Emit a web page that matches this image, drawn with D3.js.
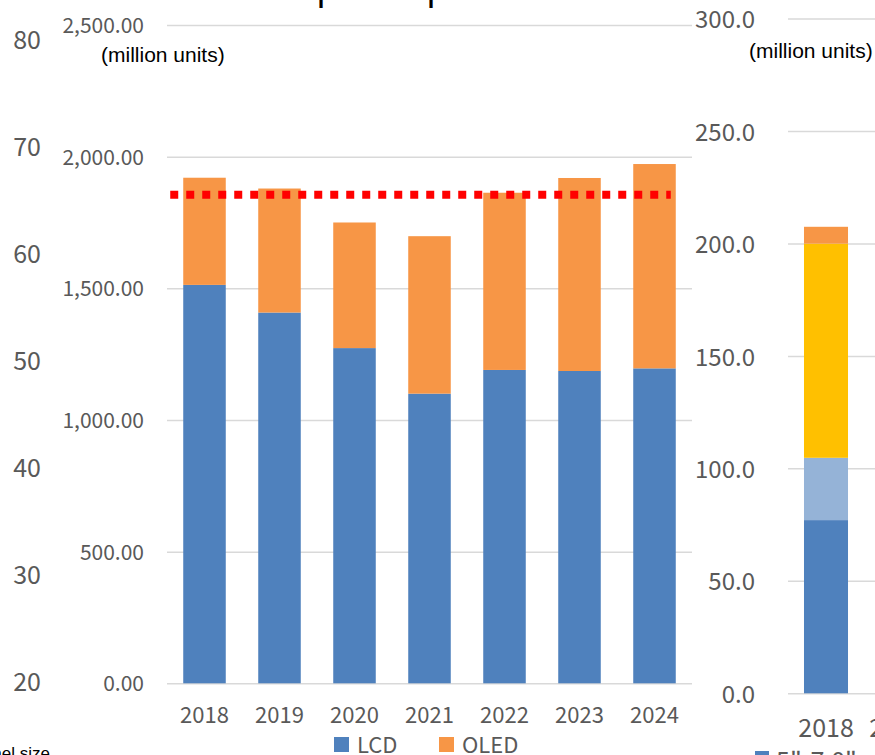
<!DOCTYPE html>
<html>
<head>
<meta charset="utf-8">
<script src="https://cdn.jsdelivr.net/npm/d3@7"></script>
<style>
  body { margin: 0; background: #fff; }
  svg { display: block; }
</style>
</head>
<body>
<div id="chart"></div>
<script>
// main chart data (million units)
const years = ['2018', '2019', '2020', '2021', '2022', '2023', '2024']
const lcd = [1513, 1408, 1273, 1100, 1190, 1186, 1196]
const oled = [407, 471, 477, 598, 673, 733, 776]
const refLine = 1855
const mainTicks = [0, 500, 1000, 1500, 2000, 2500]

// axis of the chart cut off on the left
const leftTicks = [20, 30, 40, 50, 60, 70, 80]

// chart cut off on the right
const rightYears = ['2018', '2019']
const rightKeys = ['a', 'b', 'c', 'd']
const rightValues = [[77.0, 27.7, 95.2, 7.5]]
const rightTicks = [0, 50, 100, 150, 200, 250, 300]

const w = 875
const h = 755
const numFont = '"Noto Sans CJK JP", "Noto Sans", sans-serif'
const txtFont = '"Liberation Sans", Arial, sans-serif'
const grey = '#595959'
const gridColor = '#d9d9d9'

const svg = d3.select('#chart')
    .append('svg')
    .attr('width', w)
    .attr('height', h)

// title, only the descenders show at the top edge
svg.append('text')
    .attr('x', 221)
    .attr('y', 0)
    .attr('font-family', txtFont)
    .attr('font-size', 36)
    .attr('fill', '#000')
    .text('Smartphone panel')

// ---- left cut-off axis ----
const yLeft = d3.scaleLinear().domain([20, 80]).range([681.5, 39.5])
svg.append('g')
    .attr('transform', 'translate(41,0)')
    .call(d3.axisLeft(yLeft).tickValues(leftTicks).tickSize(0).tickPadding(0))
    .call(g => g.select('.domain').remove())
    .selectAll('text')
    .attr('font-family', numFont)
    .attr('font-size', 25)
    .attr('fill', grey)
    .attr('dy', '0.35em')

svg.append('text')
    .attr('x', 50)
    .attr('y', 759)
    .attr('text-anchor', 'end')
    .attr('font-family', txtFont)
    .attr('font-size', 17)
    .attr('fill', '#000')
    .text('Panel size')

// ---- main chart ----
const xScale = d3.scaleBand()
    .domain(years)
    .range([167, 692])
    .paddingInner(0.433)
    .paddingOuter(0.2165)

const yScale = d3.scaleLinear()
    .domain([0, 2500])
    .range([683.3, 25])

// grid + y labels
const yAxis = svg.append('g')
    .attr('transform', 'translate(692,0)')
    .call(d3.axisLeft(yScale).tickValues(mainTicks).tickSize(525)
        .tickFormat(d3.format(',.2f')))
yAxis.select('.domain').remove()
yAxis.selectAll('line').attr('stroke', gridColor).attr('stroke-width', 1.5)
yAxis.selectAll('text')
    .attr('font-family', numFont)
    .attr('font-size', 21)
    .attr('fill', grey)
    .attr('x', -548)
    .attr('dy', '0.36em')

svg.append('text')
    .attr('x', 101)
    .attr('y', 62)
    .attr('font-family', txtFont)
    .attr('font-size', 21)
    .attr('fill', '#000')
    .text('(million units)')

const table = years.map((y, i) => ({ year: y, LCD: lcd[i], OLED: oled[i] }))
const stacked = d3.stack().keys(['LCD', 'OLED'])(table)
const colors = { LCD: '#4F81BD', OLED: '#F79646' }

svg.append('g')
    .selectAll('g')
    .data(stacked)
    .enter()
    .append('g')
    .attr('fill', d => colors[d.key])
    .selectAll('rect')
    .data(d => d)
    .enter()
    .append('rect')
    .attr('x', d => xScale(d.data.year))
    .attr('width', xScale.bandwidth())
    .attr('y', d => yScale(d[1]))
    .attr('height', d => yScale(d[0]) - yScale(d[1]))

// red dotted reference line
svg.append('line')
    .attr('x1', xScale(years[0]) - 13)
    .attr('x2', xScale(years[years.length - 1]) + xScale.bandwidth() - 5)
    .attr('y1', yScale(refLine))
    .attr('y2', yScale(refLine))
    .attr('stroke', '#FF0000')
    .attr('stroke-width', 8)
    .attr('stroke-dasharray', '8,8')

// x labels
const xAxis = svg.append('g')
    .attr('transform', 'translate(0,683.3)')
    .call(d3.axisBottom(xScale).tickSize(0).tickPadding(0))
xAxis.select('.domain').remove()
xAxis.selectAll('text')
    .attr('font-family', numFont)
    .attr('font-size', 22)
    .attr('fill', grey)
    .attr('dy', null)
    .attr('y', 39.4)

// legend
const legend = svg.append('g')
    .selectAll('g')
    .data(['LCD', 'OLED'])
    .enter()
    .append('g')
    .attr('transform', (d, i) => 'translate(' + (334 + i * 105) + ',737)')
legend.append('rect')
    .attr('width', 15)
    .attr('height', 15)
    .attr('fill', d => colors[d])
legend.append('text')
    .attr('x', 23)
    .attr('y', 16)
    .attr('font-family', numFont)
    .attr('font-size', 22)
    .attr('fill', grey)
    .text(d => d)

// ---- right cut-off chart ----
const xRight = d3.scaleBand()
    .domain(rightYears)
    .range([790.5, 932.5])
    .paddingInner(0.38)
    .paddingOuter(0.19)

const yRight = d3.scaleLinear()
    .domain([0, 300])
    .range([693.3, 18.5])

const rAxis = svg.append('g')
    .attr('transform', 'translate(788,0)')
    .call(d3.axisRight(yRight).tickValues(rightTicks).tickSize(100)
        .tickFormat(d3.format('.1f')))
rAxis.select('.domain').remove()
rAxis.selectAll('line').attr('stroke', gridColor).attr('stroke-width', 1.5)
rAxis.selectAll('text')
    .attr('font-family', numFont)
    .attr('font-size', 24)
    .attr('fill', grey)
    .attr('text-anchor', 'end')
    .attr('x', -33)
    .attr('dy', '0.38em')

svg.append('text')
    .attr('x', 749)
    .attr('y', 58)
    .attr('font-family', txtFont)
    .attr('font-size', 21)
    .attr('fill', '#000')
    .text('(million units)')

const rTable = rightValues.map((v, i) => {
    const row = { year: rightYears[i] }
    rightKeys.forEach((k, j) => { row[k] = v[j] })
    return row
})
const rStacked = d3.stack().keys(rightKeys)(rTable)
const rColors = ['#4F81BD', '#95B3D7', '#FFC000', '#F79646']

svg.append('g')
    .selectAll('g')
    .data(rStacked)
    .enter()
    .append('g')
    .attr('fill', (d, i) => rColors[i])
    .selectAll('rect')
    .data(d => d)
    .enter()
    .append('rect')
    .attr('x', d => xRight(d.data.year))
    .attr('width', xRight.bandwidth())
    .attr('y', d => yRight(d[1]))
    .attr('height', d => yRight(d[0]) - yRight(d[1]))

const rxAxis = svg.append('g')
    .attr('transform', 'translate(0,693.3)')
    .call(d3.axisBottom(xRight).tickSize(0).tickPadding(0))
rxAxis.select('.domain').remove()
rxAxis.selectAll('text')
    .attr('font-family', numFont)
    .attr('font-size', 25)
    .attr('fill', grey)
    .attr('dy', null)
    .attr('y', 43.4)

svg.append('rect')
    .attr('x', 755)
    .attr('y', 751)
    .attr('width', 14)
    .attr('height', 14)
    .attr('fill', rColors[0])
svg.append('text')
    .attr('x', 776)
    .attr('y', 770)
    .attr('font-family', numFont)
    .attr('font-size', 25)
    .attr('fill', grey)
    .text('5"-7.0"')
</script>
</body>
</html>
